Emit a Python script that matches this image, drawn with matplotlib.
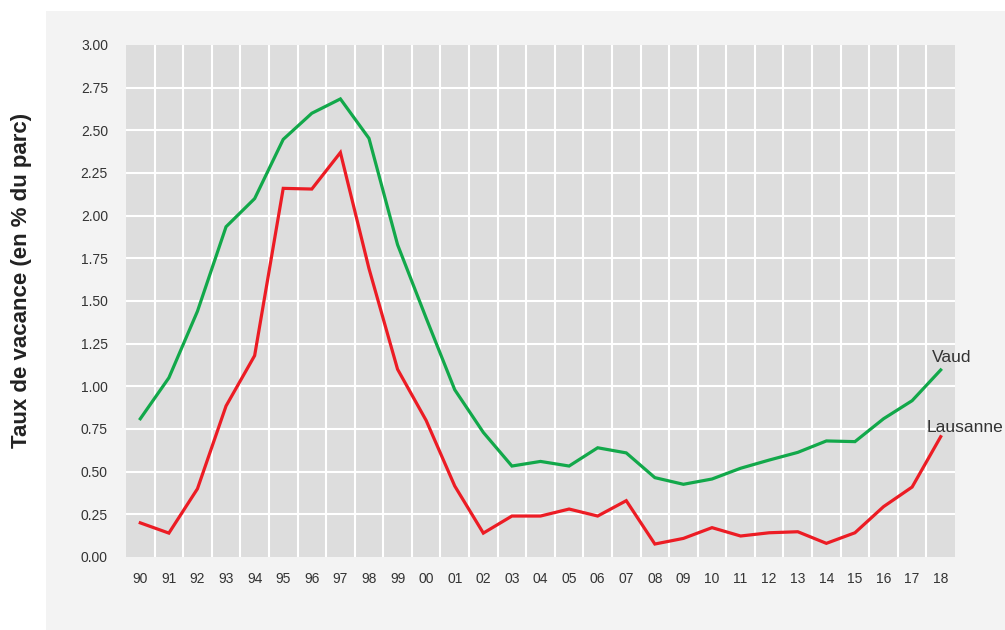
import matplotlib
matplotlib.use("Agg")
import matplotlib.pyplot as plt
from matplotlib.patches import Rectangle

years = ["90", "91", "92", "93", "94", "95", "96", "97", "98", "99",
         "00", "01", "02", "03", "04", "05", "06", "07", "08", "09",
         "10", "11", "12", "13", "14", "15", "16", "17", "18"]
vaud = [0.81, 1.05, 1.44, 1.935, 2.10, 2.447, 2.60, 2.684, 2.453, 1.83,
        1.40, 0.98, 0.73, 0.533, 0.56, 0.533, 0.64, 0.61, 0.465, 0.426,
        0.457, 0.52, 0.568, 0.613, 0.68, 0.676, 0.81, 0.916, 1.096]
lausanne = [0.20, 0.14, 0.40, 0.885, 1.18, 2.16, 2.156, 2.37, 1.69, 1.10,
            0.80, 0.416, 0.14, 0.24, 0.24, 0.281, 0.24, 0.33, 0.076, 0.109,
            0.172, 0.123, 0.142, 0.148, 0.08, 0.142, 0.295, 0.41, 0.705]
yticks = [0.00, 0.25, 0.50, 0.75, 1.00, 1.25, 1.50, 1.75, 2.00, 2.25, 2.50, 2.75, 3.00]

plt.rcParams['font.family'] = ['Liberation Sans', 'DejaVu Sans']

W, H = 1005, 630
fig = plt.figure(figsize=(W / 100, H / 100), dpi=100)
fig.patch.set_facecolor("white")
fig.patches.append(Rectangle((46 / W, 0), 1 - 46 / W, (H - 11) / H,
                             transform=fig.transFigure, facecolor="#f3f3f3",
                             edgecolor="none", zorder=-10))

ax = fig.add_axes([126 / W, (H - 557) / H, 829 / W, 512 / H])
ax.set_zorder(1)
ax.set_facecolor("#dddddd")
for s in ax.spines.values():
    s.set_visible(False)

x = list(range(len(years)))
ax.set_xlim(-0.5, len(years) - 0.5)
ax.set_ylim(0, 3.0)

# grid lines
for i in range(len(years) - 1):
    ax.axvline(i + 0.5, color="white", lw=1.5, zorder=1)
for v in yticks[1:-1]:
    ax.axhline(v, color="white", lw=1.5, zorder=1)

ax.plot(x, vaud, color="#12a84a", lw=2.3, zorder=3, solid_joinstyle="miter")
ax.plot(x, lausanne, color="#ec1c24", lw=2.3, zorder=3, solid_joinstyle="miter")

ax.set_xticks(x)
ax.set_xticklabels(years)
ax.set_yticks(yticks)
ax.set_yticklabels([f"{v:.2f}" for v in yticks])
ax.tick_params(axis="both", length=0, labelsize=10, colors="#333333")
ax.tick_params(axis="y", pad=13)
ax.tick_params(axis="x", pad=10.5)

ax.text(27.68, 1.145, "Vaud", fontsize=12.5, color="#333333",
        ha="left", va="baseline", clip_on=False)
ax.text(27.51, 0.734, "Lausanne", fontsize=12.5, color="#333333",
        ha="left", va="baseline", clip_on=False)

fig.text(22 / W, (H - 280) / H, "Taux de vacance (en % du parc)",
         rotation=90, ha="center", va="center", fontsize=16,
         fontweight="bold", color="#222222")

fig.savefig("out.png", dpi=100)
